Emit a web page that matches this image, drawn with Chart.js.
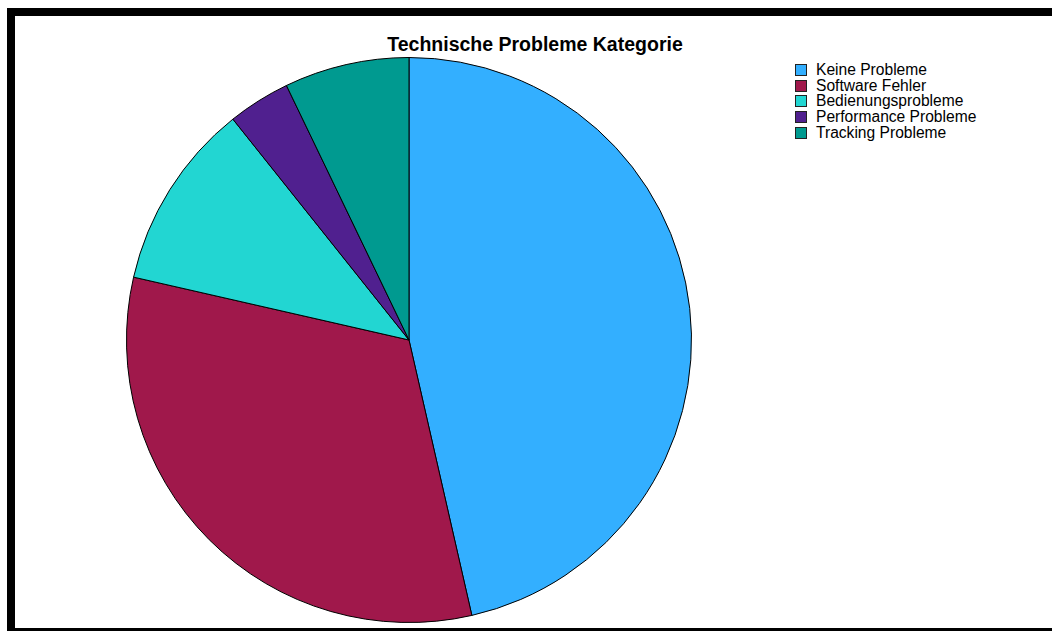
<!DOCTYPE html>
<html>
<head>
<meta charset="utf-8">
<title>Technische Probleme Kategorie</title>
<script src="https://cdn.jsdelivr.net/npm/chart.js@4.4.1/dist/chart.umd.min.js"></script>
<style>
  html, body { margin: 0; padding: 0; background: #fff; }
  body { width: 1052px; height: 631px; position: relative; overflow: hidden;
         font-family: "Liberation Sans", Arial, sans-serif; }
  #frame { position: absolute; left: 7px; top: 8px; right: -20px; bottom: 0;
           border-top: 8px solid #000; border-left: 8px solid #000; border-bottom: 3px solid #000; }
  #title { position: absolute; left: 335px; width: 400px; top: 33px; text-align: center;
           font-weight: bold; font-size: 19.5px; color: #000; }
  #pie-wrap { position: absolute; left: 126px; top: 57px; width: 566px; height: 566px; }
  #legend { position: absolute; left: 795px; top: 62px; list-style: none; margin: 0; padding: 0; }
  #legend li { height: 15.7px; line-height: 15.7px; font-size: 15.6px; color: #000; white-space: nowrap; }
  #legend span.box { display: inline-block; width: 10px; height: 10px; border: 1px solid #222;
                     margin-right: 9px; vertical-align: -1px; }
</style>
</head>
<body>
<div id="frame"></div>
<div id="title">Technische Probleme Kategorie</div>
<div id="pie-wrap"><canvas id="pie"></canvas></div>
<ul id="legend"></ul>

<script>
// Kategorien und Anzahl der Nennungen
const categories = ['Keine Probleme', 'Software Fehler', 'Bedienungsprobleme', 'Performance Probleme', 'Tracking Probleme'];
const counts = [13, 9, 3, 1, 2];
const sliceColors = ['#33AFFF', '#A0184B', '#22D6D2', '#50208F', '#009A90'];

// Legende als einfache Liste
const legend = document.getElementById('legend');
categories.forEach((name, i) => {
  const li = document.createElement('li');
  const box = document.createElement('span');
  box.className = 'box';
  box.style.background = sliceColors[i];
  li.appendChild(box);
  li.appendChild(document.createTextNode(name));
  legend.appendChild(li);
});

new Chart(document.getElementById('pie'), {
  type: 'pie',
  data: {
    labels: categories,
    datasets: [{
      data: counts,
      backgroundColor: sliceColors,
      borderColor: '#000',
      borderWidth: 1,
    }],
  },
  options: {
    responsive: true,
    maintainAspectRatio: false,
    animation: false,
    layout: { padding: 0 },
    plugins: {
      legend: { display: false },
      title: { display: false },
      tooltip: { enabled: false },
    },
  },
});
</script>
</body>
</html>
